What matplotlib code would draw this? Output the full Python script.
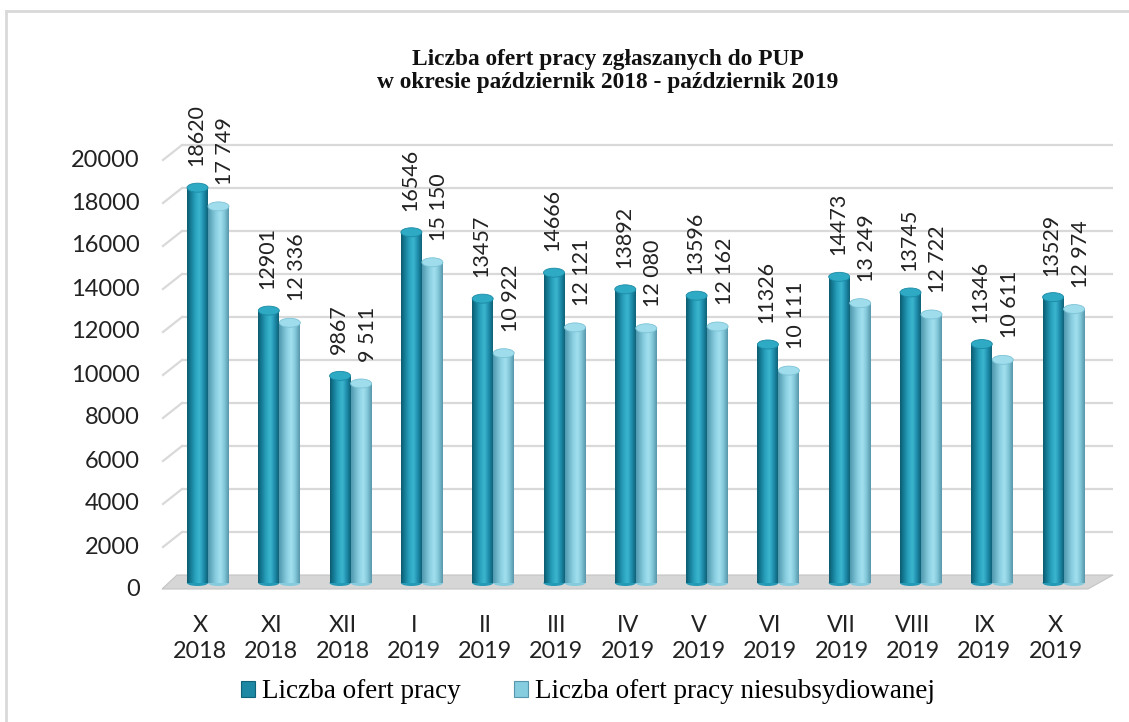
import matplotlib
matplotlib.use("Agg")
import matplotlib.pyplot as plt
import numpy as np
from matplotlib.patches import Rectangle, Ellipse, Polygon
from matplotlib.colors import LinearSegmentedColormap
from matplotlib.lines import Line2D

months = ["X", "XI", "XII", "I", "II", "III", "IV", "V", "VI", "VII", "VIII", "IX", "X"]
years = ["2018", "2018", "2018", "2019", "2019", "2019", "2019", "2019", "2019", "2019", "2019", "2019", "2019"]
oferty = [18620, 12901, 9867, 16546, 13457, 14666, 13892, 13596, 11326, 14473, 13745, 11346, 13529]
niesub = [17749, 12336, 9511, 15150, 10922, 12121, 12080, 12162, 10111, 13249, 12722, 10611, 12974]
labels_oferty = ["18620", "12901", "9867", "16546", "13457", "14666", "13892", "13596", "11326", "14473", "13745", "11346", "13529"]
labels_niesub = ["17 749", "12 336", "9 511", "15 150", "10 922", "12 121", "12 080", "12 162", "10 111", "13 249", "12 722", "10 611", "12 974"]
yticks = list(range(0, 20001, 2000))
series_names = ["Liczba ofert pracy", "Liczba ofert pracy niesubsydiowanej"]
title = "Liczba ofert pracy zgłaszanych do PUP\nw okresie październik 2018 - październik 2019"

W, H = 1129, 722
fig = plt.figure(figsize=(W / 100, H / 100), dpi=100)

# pixel geometry of the plot
px_left, px_right = 140, 1120
py_top, py_bot = 130, 600
ax = fig.add_axes([px_left / W, 1 - py_bot / H, (px_right - px_left) / W, (py_bot - py_top) / H])
ppu_x = 71.3          # px per category
ppu_y = 0.0215        # px per unit value
x0_px = 200           # pixel of category 0
y0_px = 588           # pixel of value 0
ax.set_xlim((px_left - x0_px) / ppu_x, (px_right - x0_px) / ppu_x)
ax.set_ylim((y0_px - py_bot) / ppu_y, (y0_px - py_top) / ppu_y)
for s in ax.spines.values():
    s.set_visible(False)

def dx(px):
    return px / ppu_x

def dy(px):
    return px / ppu_y

def xpx(p):
    return (p - x0_px) / ppu_x

def ypx(p):
    return (y0_px - p) / ppu_y

# floor
floor = Polygon([(xpx(162), ypx(589)), (xpx(1088), ypx(589)), (xpx(1113), ypx(575)), (xpx(177), ypx(575))],
                closed=True, facecolor="#d6d6d6", edgecolor="#c4c4c4", lw=0.8, zorder=1)
ax.add_patch(floor)

# gridlines with left wall diagonals
grid_off = dy(13)
for v in yticks[1:]:
    ax.plot([xpx(182), xpx(1113)], [v + grid_off, v + grid_off], color="#d9d9d9", lw=1.6, zorder=0.5,
            solid_capstyle="butt")
    ax.plot([xpx(163), xpx(182)], [v - dy(2), v + grid_off], color="#d9d9d9", lw=1.6, zorder=0.5)

cmap_dark = LinearSegmentedColormap.from_list("d", ["#0c5c70", "#17819b", "#2aa3bf", "#3cb6cf", "#1f8ead", "#0f6378"])
cmap_light = LinearSegmentedColormap.from_list("l", ["#4f98ad", "#6fb6ca", "#8dd2e4", "#a3e0ee", "#80c6d8", "#5796aa"])
grad = np.linspace(0, 1, 64).reshape(1, -1)

bw = dx(21)
xs = np.arange(len(months))
off_d = dx(-2.5)
off_l = dx(18.5)
base = ypx(583)

def cyl(xc, v, cmap, cap_col, cap_edge):
    r = Rectangle((xc - bw / 2, base), bw, v - base, facecolor="none", edgecolor="none", zorder=3)
    ax.add_patch(r)
    im = ax.imshow(grad, cmap=cmap, aspect="auto", extent=(xc - bw / 2, xc + bw / 2, base, v),
                   zorder=3, interpolation="bicubic")
    im.set_clip_path(r)
    eb = Ellipse((xc, base), bw, dy(6), facecolor=cmap(0.35), edgecolor="none", zorder=2.9)
    ax.add_patch(eb)
    e = Ellipse((xc, v), bw, dy(9), facecolor=cap_col, edgecolor=cap_edge, lw=0.6, zorder=4)
    ax.add_patch(e)

for i in xs:
    cyl(i + off_d, oferty[i], cmap_dark, "#2eaac4", "#1b8aa5")
    cyl(i + off_l, niesub[i], cmap_light, "#9fdcec", "#7cc3d6")

lab_font = dict(family="Lato", fontsize=15.5, color="#222222")
for i in xs:
    ax.annotate(labels_oferty[i], (i + off_d, oferty[i]), xytext=(-1, 15.5), textcoords="offset points",
                rotation=90, ha="center", va="bottom", **lab_font)
    ax.annotate(labels_niesub[i], (i + off_l, niesub[i]), xytext=(5, 15.5), textcoords="offset points",
                rotation=90, ha="center", va="bottom", **lab_font)

ax.set_yticks(yticks)
ax.set_yticklabels([str(v) for v in yticks], family="Lato", fontsize=17, color="#222222")
ax.set_xticks(xs)
ax.set_xticklabels([m + "\n" + y for m, y in zip(months, years)], family="Lato", fontsize=16.8,
                   color="#222222", linespacing=1.25)
ax.tick_params(axis="y", length=0, pad=0)
ax.tick_params(axis="x", length=0, pad=11)

fig.text(608 / W, 1 - 71 / H, title, ha="center", va="center", family="Liberation Serif",
         fontweight="bold", fontsize=16.8, linespacing=1.12, color="#111111")

handles = [Rectangle((0, 0), 1, 1, facecolor="#1c88a3", edgecolor="#0f6378", lw=0.8),
           Rectangle((0, 0), 1, 1, facecolor="#86cde0", edgecolor="#5796aa", lw=0.8)]
fig.legend(handles, series_names, loc="center", bbox_to_anchor=(588 / W, 1 - 692 / H), ncol=2,
           frameon=False, prop=dict(family="Liberation Serif", size=19.5), handlelength=0.5,
           handleheight=0.5, handletextpad=0.25, columnspacing=2.0)

# outer border (top and left visible)
fig.add_artist(Line2D([6 / W, 1.0], [1 - 11 / H, 1 - 11 / H], color="#d9d9d9", lw=2))
fig.add_artist(Line2D([6 / W, 6 / W], [0, 1 - 11 / H], color="#d9d9d9", lw=2))

fig.savefig("out.png", dpi=100)
